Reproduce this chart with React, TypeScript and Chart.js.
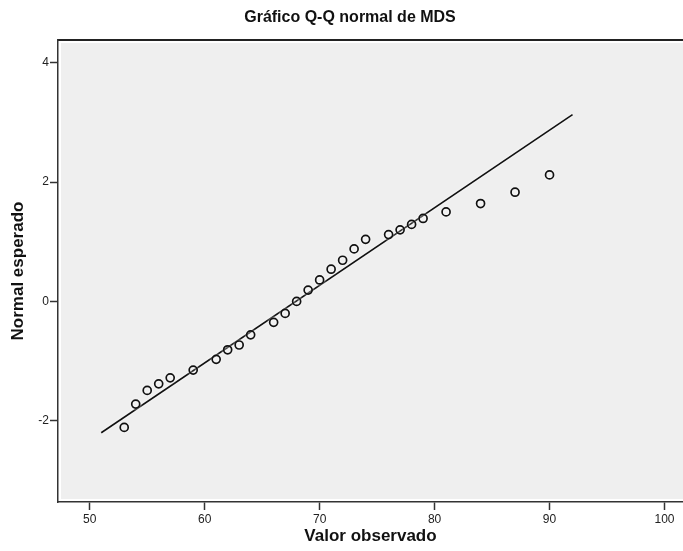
import { useEffect, useRef } from "react";
import { Chart, registerables } from "chart.js";

Chart.register(...registerables);

const observed = [53, 54, 55, 56, 57, 59, 61, 62, 63, 64, 66, 67, 68, 69, 70, 71, 72, 73, 74, 76, 77, 78, 79, 81, 84, 87, 90];
const expectedNormal = [-2.11, -1.72, -1.49, -1.38, -1.28, -1.15, -0.97, -0.81, -0.73, -0.56, -0.35, -0.2, 0.0, 0.19, 0.36, 0.54, 0.69, 0.88, 1.04, 1.12, 1.2, 1.29, 1.39, 1.5, 1.64, 1.83, 2.12];
const refLineX = [51, 92];
const refLineY = [-2.2, 3.13];
const xTicks = [50, 60, 70, 80, 90, 100];
const yTicks = [-2, 0, 2, 4];

const FONT = "'Liberation Sans', Arial, sans-serif";

export default function App() {
  const canvasRef = useRef<HTMLCanvasElement>(null);
  const chartRef = useRef<Chart | null>(null);

  useEffect(() => {
    if (chartRef.current) chartRef.current.destroy();
    const ctx = canvasRef.current!.getContext("2d")!;

    const framePlugin = {
      id: "spssFrame",
      beforeDraw: (chart: any) => {
        const { ctx, chartArea } = chart;
        const { left, top, right, bottom } = chartArea;
        ctx.save();
        ctx.fillStyle = "#ffffff";
        ctx.fillRect(0, 0, chart.width, chart.height);
        ctx.fillStyle = "#efefef";
        ctx.fillRect(left + 3, top + 3, right - left - 3, bottom - top - 6);
        ctx.strokeStyle = "#222";
        ctx.lineWidth = 2;
        ctx.beginPath();
        ctx.moveTo(left, top);
        ctx.lineTo(right, top);
        ctx.stroke();
        ctx.fillStyle = "#111";
        ctx.font = `bold 16px ${FONT}`;
        ctx.textAlign = "center";
        ctx.textBaseline = "middle";
        ctx.fillText("Gráfico Q-Q normal de MDS", 350, 18);
        ctx.restore();
      },
      // soft white halo round the marks, as in the SPSS export
      beforeDatasetsDraw: (chart: any) => {
        chart.ctx.save();
        chart.ctx.shadowColor = "rgba(255,255,255,0.95)";
        chart.ctx.shadowBlur = 3;
      },
      afterDatasetsDraw: (chart: any) => {
        chart.ctx.restore();
      },
    };

    chartRef.current = new Chart(ctx, {
      type: "scatter",
      data: {
        datasets: [
          {
            type: "line",
            label: "ref",
            data: refLineX.map((x, i) => ({ x, y: refLineY[i] })),
            borderColor: "#111",
            borderWidth: 1.6,
            pointRadius: 0,
            fill: false,
            order: 2,
          },
          {
            label: "MDS",
            data: observed.map((x, i) => ({ x, y: expectedNormal[i] })),
            pointStyle: "circle",
            pointRadius: 4,
            borderColor: "#111",
            borderWidth: 1.7,
            backgroundColor: "rgba(0,0,0,0)",
            order: 1,
          },
        ],
      },
      options: {
        responsive: false,
        animation: false,
        layout: { autoPadding: false, padding: { top: 40, right: 0, left: 0, bottom: 0 } },
        plugins: {
          legend: { display: false },
          title: { display: false },
          tooltip: { enabled: false },
        },
        scales: {
          x: {
            type: "linear",
            min: 47.24,
            max: 101.61,
            afterBuildTicks: (scale: any) => {
              scale.ticks = xTicks.map((v) => ({ value: v }));
            },
            afterFit: (scale: any) => {
              scale.height = 49;
              scale.paddingLeft = 0;
              scale.paddingRight = 0;
            },
            grid: {
              drawOnChartArea: false,
              drawTicks: true,
              tickLength: 8,
              tickColor: "#333",
              tickWidth: 1.5,
            },
            border: { color: "#333", width: 1.5 },
            ticks: {
              color: "#222",
              font: { family: FONT, size: 12 },
              padding: 2,
              maxRotation: 0,
            },
            title: {
              display: true,
              text: "Valor observado",
              color: "#111",
              font: { family: FONT, size: 17, weight: "bold" },
              padding: { top: 0, bottom: 4 },
            },
          },
          y: {
            type: "linear",
            min: -3.36,
            max: 4.38,
            afterBuildTicks: (scale: any) => {
              scale.ticks = yTicks.map((v) => ({ value: v }));
            },
            afterFit: (scale: any) => {
              scale.width = 58;
              scale.paddingTop = 0;
              scale.paddingBottom = 0;
            },
            grid: {
              drawOnChartArea: false,
              drawTicks: true,
              tickLength: 8,
              tickColor: "#333",
              tickWidth: 1.5,
            },
            border: { color: "#333", width: 1.5 },
            ticks: {
              color: "#222",
              font: { family: FONT, size: 12 },
              padding: 1,
            },
            title: {
              display: true,
              text: "Normal esperado",
              color: "#111",
              font: { family: FONT, size: 17, weight: "bold" },
              padding: { top: 8, bottom: 0 },
            },
          },
        },
      },
      plugins: [framePlugin],
    });

    return () => {
      if (chartRef.current) {
        chartRef.current.destroy();
        chartRef.current = null;
      }
    };
  }, []);

  return (
    <div style={{ position: "fixed", left: 0, top: 0, width: 683, height: 551 }}>
      <canvas ref={canvasRef} width={683} height={551} />
    </div>
  );
}
